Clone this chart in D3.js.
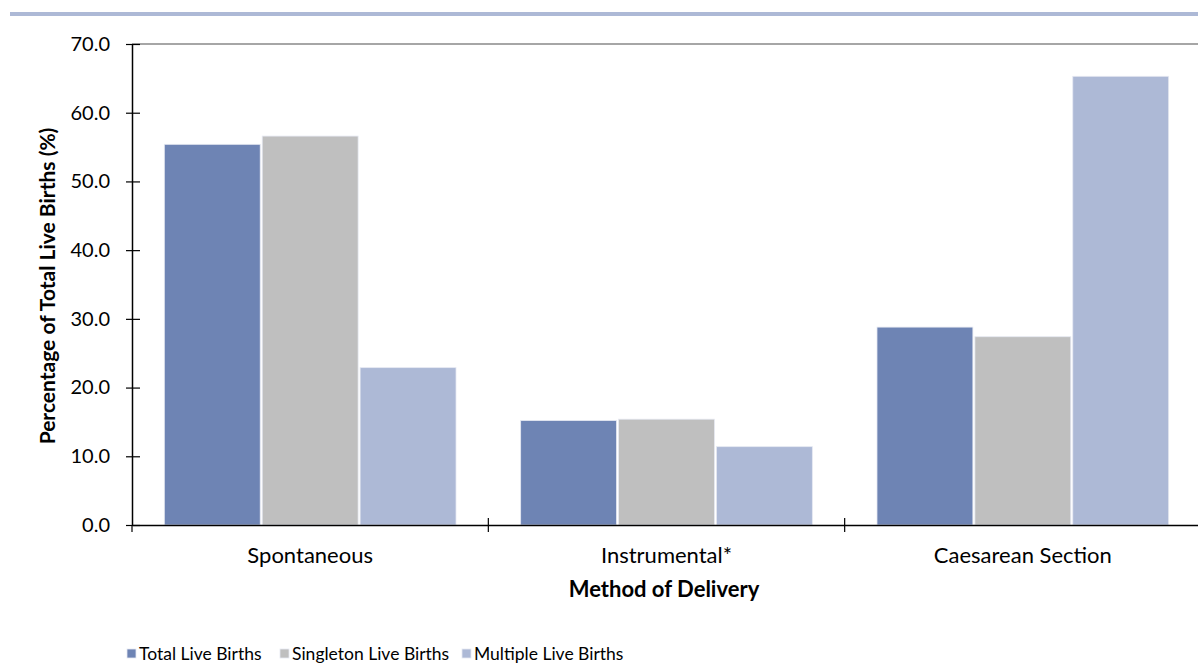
<!DOCTYPE html>
<html>
<head>
<meta charset="utf-8">
<script src="https://cdn.jsdelivr.net/npm/d3@7"></script>
<style>
  body { margin: 0; background: #fff; }
  svg { display: block; font-family: "Lato", "Open Sans", sans-serif; }
</style>
</head>
<body>
<div id="chart"></div>
<script>
const categories = ['Spontaneous', 'Instrumental*', 'Caesarean Section'];
const seriesNames = ['Total Live Births', 'Singleton Live Births', 'Multiple Live Births'];
const totalBirths = [55.4, 15.2, 28.8];
const singletonBirths = [56.6, 15.4, 27.4];
const multipleBirths = [22.9, 11.4, 65.3];
const yTicks = [0, 10, 20, 30, 40, 50, 60, 70];
const colors = ['#6e84b4', '#bfbfbf', '#adb9d6'];

const width = 1198, height = 666;
const margin = {top: 44, right: -3, bottom: 141, left: 132};
const series = [totalBirths, singletonBirths, multipleBirths];

const svg = d3.select('#chart').append('svg')
    .attr('width', width)
    .attr('height', height);

// blue band across the top
svg.append('rect')
    .attr('x', 10).attr('y', 12)
    .attr('width', width - 10).attr('height', 4)
    .attr('fill', '#adb9d6');

const x = d3.scaleBand()
    .domain(categories)
    .range([margin.left, width - margin.right])
    .paddingInner(0).paddingOuter(0);

const x1 = d3.scaleBand()
    .domain(d3.range(series.length))
    .range([0, x.bandwidth()])
    .paddingInner(0)
    .paddingOuter(0.32);

const y = d3.scaleLinear()
    .domain([0, 70])
    .range([height - margin.bottom, margin.top]);

// top gridline
svg.append('line')
    .attr('x1', margin.left).attr('x2', width)
    .attr('y1', y(70)).attr('y2', y(70))
    .attr('stroke', '#a6a6a6').attr('stroke-width', 2);

// bars
const groups = svg.append('g').selectAll('g')
    .data(categories)
    .join('g')
    .attr('transform', d => `translate(${x(d)},0)`);

groups.selectAll('rect')
    .data((d, i) => series.map((s, j) => ({j, v: s[i]})))
    .join('rect')
    .attr('x', d => x1(d.j) + 1)
    .attr('width', x1.bandwidth() - 2)
    .attr('y', d => y(d.v))
    .attr('height', d => y(0) - y(d.v))
    .attr('fill', d => colors[d.j])
    .attr('stroke', '#e6e9f2')
    .attr('stroke-width', 0.8);

// y axis
const yAxis = svg.append('g')
    .attr('transform', `translate(${margin.left},0)`)
    .call(d3.axisLeft(y).tickValues(yTicks).tickFormat(d3.format('.1f')).tickSize(6).tickSizeOuter(0));
yAxis.select('.domain').attr('stroke', '#000').attr('stroke-width', 1.5);
yAxis.selectAll('.tick line').attr('stroke', '#000').attr('stroke-width', 1.2)
    .attr('x1', 8).attr('x2', -6);
yAxis.selectAll('.tick text')
    .attr('x', -22)
    .attr('font-size', 20)
    .attr('fill', '#000')
    .attr('font-family', 'Lato, sans-serif');

// x axis
const xAxis = svg.append('g')
    .attr('transform', `translate(0,${y(0)})`)
    .call(d3.axisBottom(x).tickSize(0).tickSizeOuter(0));
xAxis.select('.domain').attr('stroke', '#000').attr('stroke-width', 1.5);
xAxis.selectAll('.tick text')
    .attr('y', 38)
    .attr('dy', 0)
    .attr('font-size', 22)
    .attr('fill', '#000')
    .attr('font-family', 'Lato, sans-serif');

// category divider ticks
const dividers = categories.map(c => x(c)).concat([x(categories[categories.length - 1]) + x.bandwidth()]);
svg.append('g').selectAll('line')
    .data(dividers.slice(1, -1))
    .join('line')
    .attr('x1', d => d).attr('x2', d => d)
    .attr('y1', y(0) - 7).attr('y2', y(0) + 7)
    .attr('stroke', '#000').attr('stroke-width', 1.2);
svg.append('line')
    .attr('x1', margin.left).attr('x2', margin.left)
    .attr('y1', y(0)).attr('y2', y(0) + 7)
    .attr('stroke', '#000').attr('stroke-width', 1.2);

// axis titles
svg.append('text')
    .attr('x', 664).attr('y', 597)
    .attr('text-anchor', 'middle')
    .attr('font-size', 22)
    .attr('font-weight', 'bold')
    .text('Method of Delivery');

svg.append('text')
    .attr('transform', `translate(55,286) rotate(-90)`)
    .attr('text-anchor', 'middle')
    .attr('font-size', 21)
    .attr('font-weight', 'bold')
    .text('Percentage of Total Live Births (%)');

// legend
const legendX = [127, 280, 462];
const legend = svg.append('g').selectAll('g')
    .data(seriesNames)
    .join('g')
    .attr('transform', (d, i) => `translate(${legendX[i]},648)`);
legend.append('rect')
    .attr('y', 1)
    .attr('width', 9).attr('height', 9)
    .attr('fill', (d, i) => colors[i])
    .attr('stroke', '#e6e9f2').attr('stroke-width', 0.8);
legend.append('text')
    .attr('x', 12).attr('y', 12)
    .attr('font-size', 17.5)
    .text(d => d);
</script>
</body>
</html>
